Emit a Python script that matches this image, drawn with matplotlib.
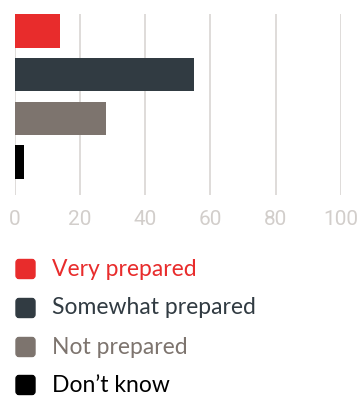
import matplotlib.pyplot as plt
from matplotlib.patches import FancyBboxPatch

# データ
categories = ['Very prepared', 'Somewhat prepared', 'Not prepared', "Don’t know"]
values = [14, 55, 28, 3]
colors = ['#e82c2c', '#313b42', '#7d746e', '#000000']
xticks = [0, 20, 40, 60, 80, 100]

W, H = 358, 397
fig = plt.figure(figsize=(W / 100, H / 100), dpi=100)

# 軸の位置（ピクセル基準）
left, right, top, bottom = 14.5, 341, 14, 195
ax = fig.add_axes([left / W, 1 - bottom / H, (right - left) / W, (bottom - top) / H])

ypos = list(range(len(categories)))
ax.barh(ypos, values, height=0.77, color=colors, zorder=2)
ax.set_xlim(0, 100)
ax.set_ylim(3.75, -0.385)
ax.set_xticks(xticks)
ax.set_xticklabels([str(t) for t in xticks], fontsize=15, color='#d2cecb',
                   family='Roboto', fontweight='normal')
ax.set_yticks([])
ax.tick_params(axis='x', length=0, pad=11)
ax.grid(axis='x', color='#dcd9d7', linewidth=1.3, zorder=0)
for s in ax.spines.values():
    s.set_visible(False)

# 凡例（手描き）
row_y = [269, 308, 347, 385]
for cat, col, y in zip(categories, colors, row_y):
    box = FancyBboxPatch((16 / W, 1 - (y + 9.5) / H), 19 / W, 19 / H,
                         boxstyle='round,pad=0,rounding_size=0.008',
                         transform=fig.transFigure, color=col)
    fig.patches.append(box)
    fig.text(52 / W, 1 - y / H, cat, color=col, fontsize=16.5, family='Lato',
             va='center', ha='left')

fig.savefig('out.png', dpi=100)
